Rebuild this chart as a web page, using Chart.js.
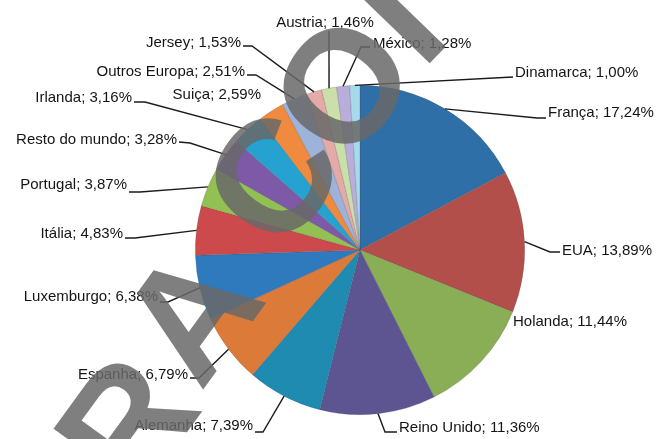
<!DOCTYPE html>
<html>
<head>
<meta charset="utf-8">
<script src="https://cdn.jsdelivr.net/npm/chart.js@4.4.0/dist/chart.umd.min.js"></script>
<style>
html, body { margin: 0; padding: 0; background: #fff; }
#wrap { width: 658px; height: 439px; position: relative; }
</style>
</head>
<body>
<div id="wrap"><canvas id="pieChart"></canvas></div>
<script>
var countries = ['França', 'EUA', 'Holanda', 'Reino Unido', 'Alemanha', 'Espanha', 'Luxemburgo', 'Itália',
  'Portugal', 'Resto do mundo', 'Irlanda', 'Suiça', 'Outros Europa', 'Jersey', 'Austria', 'México', 'Dinamarca'];
var shares = [17.24, 13.89, 11.44, 11.36, 7.39, 6.79, 6.38, 4.83, 3.87, 3.28, 3.16, 2.59, 2.51, 1.53, 1.46, 1.28, 1.00];
var sliceColors = ['#2f6fa7', '#b24f4a', '#8aae55', '#5d5592', '#1f8bb0', '#dc7a3a', '#2f79bd', '#cc4a4c',
  '#93c052', '#7d59a8', '#25a2cf', '#ef8a3e', '#9db3da', '#e4aaa8', '#cadfa9', '#b9addb', '#a6d9ea'];

// where each label sits, and the bends of its leader line (edge -> bend -> label)
var labelSpots = [
  { x: 548, y: 113, align: 'left', line: [[537, 118], [546, 118]] },
  { x: 562, y: 251, align: 'left', line: [[550, 252], [560, 252]] },
  { x: 513, y: 322, align: 'left', line: null },
  { x: 399, y: 428, align: 'left', line: [[385, 432], [397, 432]] },
  { x: 253, y: 426, align: 'right', line: [[263, 432], [255, 432]] },
  { x: 188, y: 375, align: 'right', line: [[199, 378], [190, 378]] },
  { x: 158, y: 297, align: 'right', line: [[168, 302], [160, 302]] },
  { x: 123, y: 234, align: 'right', line: [[135, 238], [125, 238]] },
  { x: 127, y: 185, align: 'right', line: [[140, 192], [129, 192]] },
  { x: 177, y: 140, align: 'right', line: [[190, 143], [179, 142]] },
  { x: 132, y: 98, align: 'right', line: [[145, 102], [134, 102]] },
  { x: 261, y: 95, align: 'right', line: null },
  { x: 245, y: 72, align: 'right', line: [[256, 75], [247, 75]] },
  { x: 241, y: 43, align: 'right', line: [[252, 46], [243, 46]] },
  { x: 325, y: 23, align: 'center', line: [[329, 31]] },
  { x: 373, y: 44, align: 'left', line: [[361, 47], [370, 47]] },
  { x: 515, y: 73, align: 'left', line: [[513, 77]] }
];

// grey stamp letters laid over the scan (glyph centres, tilt in degrees)
var stampLetters = [
  { ch: 'R', x: 128, y: 420, tilt: -54 },
  { ch: 'A', x: 190, y: 314, tilt: -54 },
  { ch: 'C', x: 273, y: 177, tilt: -54 },
  { ch: 'O', x: 342, y: 86, tilt: -54 },
  { ch: 'I', x: 398, y: 17, tilt: -46 }
];

function pct(v) {
  return v.toFixed(2).replace('.', ',') + '%';
}

var outsideLabels = {
  id: 'outsideLabels',
  afterDatasetsDraw: function(chart) {
    var ctx = chart.ctx;
    var arcs = chart.getDatasetMeta(0).data;
    ctx.save();
    ctx.strokeStyle = '#1b1b1b';
    ctx.lineWidth = 1.4;
    ctx.font = '15px "Liberation Sans", Arial, sans-serif';
    ctx.fillStyle = '#141414';
    ctx.textBaseline = 'middle';
    arcs.forEach(function(arc, i) {
      var spot = labelSpots[i];
      var p = arc.getProps(['x', 'y', 'startAngle', 'endAngle', 'outerRadius'], true);
      var mid = (p.startAngle + p.endAngle) / 2;
      if (spot.line) {
        ctx.beginPath();
        ctx.moveTo(p.x + Math.cos(mid) * p.outerRadius, p.y + Math.sin(mid) * p.outerRadius);
        spot.line.forEach(function(pt) { ctx.lineTo(pt[0], pt[1]); });
        ctx.stroke();
      }
      ctx.textAlign = spot.align;
      ctx.fillText(countries[i] + '; ' + pct(shares[i]), spot.x, spot.y);
    });
    ctx.restore();
  },
  afterDraw: function(chart) {
    var ctx = chart.ctx;
    ctx.save();
    ctx.font = 'bold 160px "Liberation Sans", Arial, sans-serif';
    ctx.fillStyle = 'rgba(105,105,105,0.85)';
    ctx.textAlign = 'left';
    ctx.textBaseline = 'alphabetic';
    stampLetters.forEach(function(s) {
      var m = ctx.measureText(s.ch);
      var cx = (m.actualBoundingBoxRight - m.actualBoundingBoxLeft) / 2;
      var cy = (m.actualBoundingBoxDescent - m.actualBoundingBoxAscent) / 2;
      ctx.save();
      ctx.translate(s.x, s.y);
      ctx.rotate(s.tilt * Math.PI / 180);
      ctx.fillText(s.ch, -cx, -cy);
      ctx.restore();
    });
    ctx.restore();
  }
};

var ctx1 = document.getElementById('pieChart').getContext('2d');
var pieChart = new Chart(ctx1, {
  type: 'pie',
  data: {
    labels: countries,
    datasets: [{
      data: shares,
      backgroundColor: sliceColors,
      borderColor: 'rgba(70,70,70,0.35)',
      borderWidth: 0.6
    }]
  },
  options: {
    responsive: true,
    maintainAspectRatio: false,
    animation: false,
    layout: { padding: { left: 195, right: 133, top: 85, bottom: 24 } },
    plugins: {
      legend: { display: false },
      tooltip: { enabled: false }
    }
  },
  plugins: [outsideLabels]
});
</script>
</body>
</html>
